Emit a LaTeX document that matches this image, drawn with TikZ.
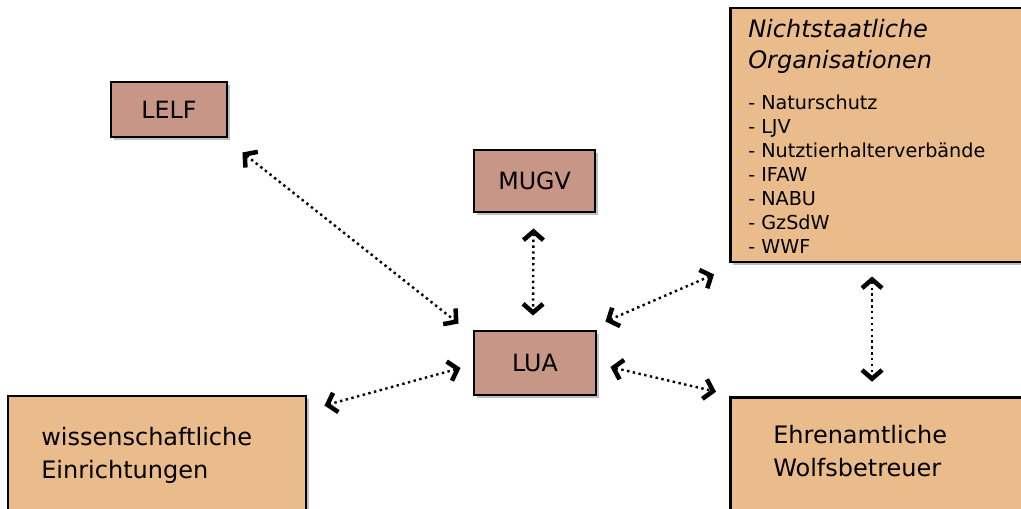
\documentclass[tikz,border=0pt]{standalone}
\usepackage{fontspec}
\setmainfont{DejaVu Sans}
\usetikzlibrary{arrows.meta,shadows,calc}
\definecolor{smallfill}{RGB}{200,150,135}
\definecolor{bigfill}{RGB}{235,188,139}
\begin{document}
\begin{tikzpicture}[x=0.75pt,y=-0.75pt,
 boxbase/.style={draw=black,line width=2.2pt, rectangle, inner sep=0pt,
   drop shadow={opacity=0.5,shadow xshift=2pt,shadow yshift=-2.5pt}},
 smallbox/.style={boxbase, fill=smallfill, font=\fontsize{17.8}{21}\selectfont},
 bigbox/.style={boxbase, fill=bigfill},
 btext/.style={anchor=base west, align=left, inner sep=0pt, font=\fontsize{18}{24.5}\selectfont},
 barb/.tip={Straight Barb[length=6.5pt,width=15pt,line width=3.4pt]},
 conn/.style={line width=1.8pt, dash pattern=on 1.8pt off 2.6pt, barb-barb},
]
\useasboundingbox (0,0) rectangle (1021,508);
\clip (0,0) rectangle (1021,508);
% boxes
\node[smallbox, minimum width=87pt, minimum height=41.25pt] (LELF) at (169,109.5) {LELF};
\node[smallbox, minimum width=90.75pt, minimum height=46.5pt] (MUGV) at (534.5,181) {MUGV};
\node[smallbox, minimum width=91.5pt, minimum height=48pt] (LUA) at (535,363) {LUA};
\node[bigbox, minimum width=223.5pt, minimum height=127.5pt] (wiss) at (157,481) {};
\node[bigbox, minimum width=247.5pt, minimum height=190.5pt] (NGO) at (895.5,135) {};
\node[bigbox, minimum width=247.5pt, minimum height=122pt] (Ehren) at (895.5,478.5) {};
% texts
\node[btext] (wisstext) at (41,478) {wissenschaftliche\\Einrichtungen};
\node[btext] (ehrentext) at (773,476) {Ehrenamtliche\\Wolfsbetreuer};
\node[btext, font=\fontsize{18}{23.25}\selectfont\itshape] (ngotitle) at (748,68) {Nichtstaatliche\\Organisationen};
\node[btext, font=\fontsize{14.4}{17.9}\selectfont] (ngolist) at (748,253) {- Naturschutz\\- LJV\\- Nutztierhalterverbände\\- IFAW\\- NABU\\- GzSdW\\- WWF};
% connectors
\draw[conn] ($(LELF.south east)+(14,14)$) -- ($(LUA.north west)+(-14,-6)$);
\draw[conn] ($(MUGV.south)+(-1,15)$) -- ($(LUA.north)+(-2,-14)$);
\draw[conn] ($(LUA.north east)+(8,-8)$) -- ($(NGO.south west)+(-15,11)$);
\draw[conn] ($(LUA.west)+(-12,5)$) -- ($(wiss.north east)+(17,11)$);
\draw[conn] ($(LUA.east)+(13,4)$) -- ($(Ehren.north west)+(-13,-4)$);
\draw[conn] ($(NGO.south west)+(143,13)$) -- ($(Ehren.north west)+(143,-14)$);
\end{tikzpicture}
\end{document}
